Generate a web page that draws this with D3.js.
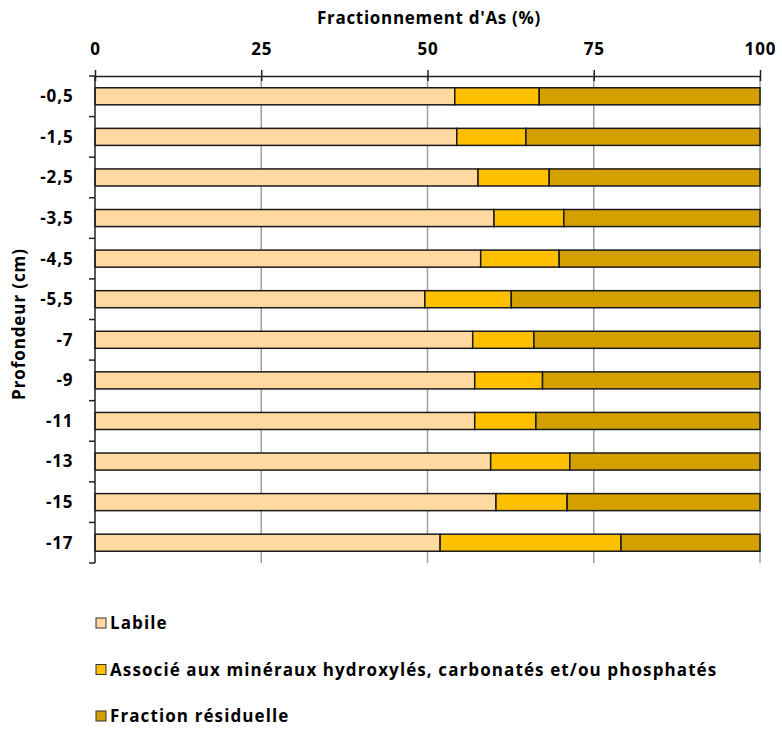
<!DOCTYPE html>
<html><head><meta charset="utf-8">
<script src="https://cdn.jsdelivr.net/npm/d3@7"></script>
<style>body{margin:0;background:#fff}svg text{font-family:"Open Sans",sans-serif;font-weight:bold;fill:#000;letter-spacing:0.9px}</style>
</head><body><svg id="c" width="782" height="729"></svg>
<script>
const depths = ["-0,5","-1,5","-2,5","-3,5","-4,5","-5,5","-7","-9","-11","-13","-15","-17"];
const labile = [54.1,54.4,57.6,60.0,58.0,49.6,56.8,57.1,57.1,59.5,60.3,51.9];
const associe = [12.7,10.4,10.7,10.5,11.8,13.0,9.2,10.2,9.2,11.9,10.7,27.2];
const residuelle = [33.2,35.2,31.7,29.5,30.2,37.4,34.0,32.7,33.7,28.6,29.0,20.9];
const seriesNames = ["Labile","Associé aux minéraux hydroxylés, carbonatés et/ou phosphatés","Fraction résiduelle"];
const colors = ["#FFD9A0","#FFC000","#D4A000"];
const xTicks = [0,25,50,75,100];

const svg = d3.select("#c");
const m = {left:95,right:760,top:76,bottom:563};
const x = d3.scaleLinear().domain([0,100]).range([m.left,m.right]);
const y = d3.scaleBand().domain(depths).range([m.top,m.bottom]).paddingInner(0.58).paddingOuter(0.29);

// gridlines
svg.append("g").selectAll("line").data(xTicks.slice(1)).join("line")
  .attr("x1",d=>x(d)).attr("x2",d=>x(d)).attr("y1",m.top).attr("y2",m.bottom)
  .attr("stroke","#a0a0a0").attr("stroke-width",1.5);

const rows = depths.map((d,i)=>({d, vals:[labile[i],associe[i],residuelle[i]]}));
const stackData = [];
rows.forEach(r=>{let acc=0; r.vals.forEach((v,k)=>{stackData.push({d:r.d,k,x0:acc,x1:acc+v}); acc+=v;});});
svg.append("g").selectAll("rect").data(stackData).join("rect")
  .attr("x",s=>x(s.x0)).attr("width",s=>x(s.x1)-x(s.x0))
  .attr("y",s=>y(s.d)).attr("height",y.bandwidth())
  .attr("fill",s=>colors[s.k]).attr("stroke","#1a1a1a").attr("stroke-width",1.5);

// top axis
const xa = svg.append("g").attr("transform",`translate(0,${m.top})`)
  .call(d3.axisTop(x).tickValues(xTicks).tickSize(0).tickPadding(0));
xa.select(".domain").attr("stroke","#222").attr("stroke-width",1.5);
xa.selectAll("text").remove();
xa.selectAll(".tick").append("line").attr("y1",-6).attr("y2",5).attr("stroke","#222").attr("stroke-width",1.5);
svg.append("g").selectAll("text").data(xTicks).join("text")
  .attr("x",d=>x(d)+0.5).attr("y",55).attr("text-anchor","middle").attr("font-size",17).text(d=>d);

// left axis
svg.append("line").attr("x1",m.left).attr("x2",m.left).attr("y1",m.top).attr("y2",m.bottom).attr("stroke","#222").attr("stroke-width",1.5);
const bounds = d3.range(depths.length+1).map(i=>m.top+i*(m.bottom-m.top)/depths.length);
svg.append("g").selectAll("line").data(bounds).join("line")
  .attr("x1",m.left-6).attr("x2",m.left).attr("y1",d=>d).attr("y2",d=>d).attr("stroke","#222").attr("stroke-width",1.5);
svg.append("g").selectAll("text").data(depths).join("text")
  .attr("x",73.5).attr("y",d=>y(d)+y.bandwidth()/2).attr("dy","0.35em").attr("text-anchor","end")
  .attr("font-size",17).text(d=>d);

// titles
svg.append("text").attr("x",429).attr("y",24).attr("text-anchor","middle").attr("font-size",17).style("letter-spacing","0.7px").text("Fractionnement d'As (%)");
svg.append("text").attr("transform","translate(25,324) rotate(-90)").attr("text-anchor","middle").attr("font-size",17).text("Profondeur (cm)");

// legend
const lg = svg.append("g").selectAll("g").data(seriesNames).join("g")
  .attr("transform",(d,i)=>`translate(96,${623+i*46.5})`);
lg.append("rect").attr("x",0).attr("y",-5).attr("width",10).attr("height",10)
  .attr("fill",(d,i)=>colors[i]).attr("stroke","#333").attr("stroke-width",1);
lg.append("text").attr("x",14).attr("y",6).attr("font-size",17).style("letter-spacing","1.1px").text(d=>d);
</script></body></html>
